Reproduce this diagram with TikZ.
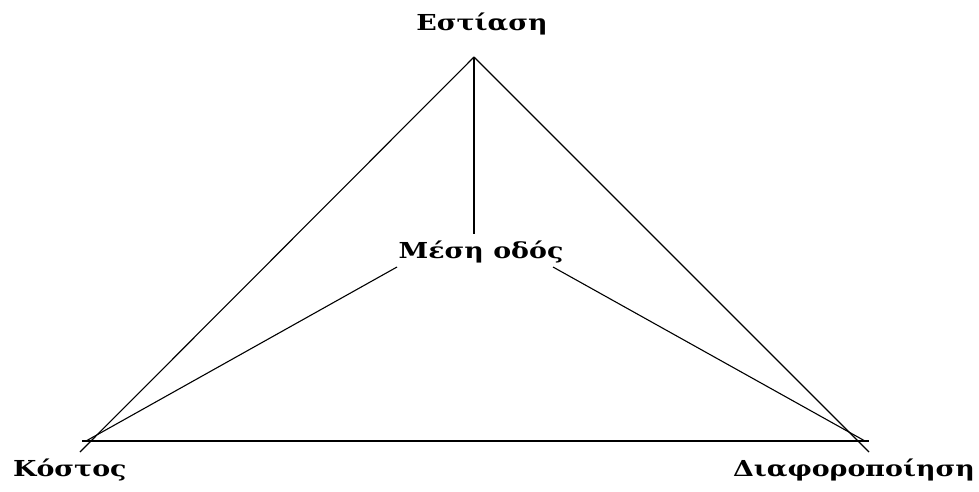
\documentclass[tikz,border=0pt]{standalone}
\usepackage{fontspec}
\setmainfont[FakeStretch=1.22]{DejaVu Serif}
\usetikzlibrary{positioning}

\begin{document}
\begin{tikzpicture}[
        x=1pt, y=-1pt,
        label/.style={inner sep=0pt, font=\fontsize{22}{26}\selectfont\bfseries},
        edge/.style={line width=1.1pt, color=black}
    ]
        \useasboundingbox (0,0) rectangle (979,491);

        % Corners of the triangle
        \coordinate (apex) at (474, 57);
        \coordinate (left) at (80, 452);
        \coordinate (right) at (869, 452);
        \coordinate (baseL) at (82, 441);
        \coordinate (baseR) at (869, 441);
        \coordinate (innerL) at (86, 441);
        \coordinate (innerR) at (865, 441);

        % Labels
        \node[label, anchor=base] (focus) at (482, 30) {Εστίαση};
        \node[label, anchor=base] (mid) at (481, 258) {Μέση οδός};
        \node[label, anchor=base west] (cost) at (13, 476) {Κόστος};
        \node[label, anchor=base east] (diff) at (975, 476) {Διαφοροποίηση};

        \coordinate (midL) at (397, 267);
        \coordinate (midR) at (553, 267);
        \coordinate (midT) at (474, 234);

        % Lines
        \draw[edge] (apex) -- (left);
        \draw[edge] (apex) -- (right);
        \draw[edge] (baseL) -- (baseR);
        \draw[edge] (apex) -- (midT);
        \draw[edge] (midL) -- (innerL);
        \draw[edge] (midR) -- (innerR);
    \end{tikzpicture}
\end{document}
